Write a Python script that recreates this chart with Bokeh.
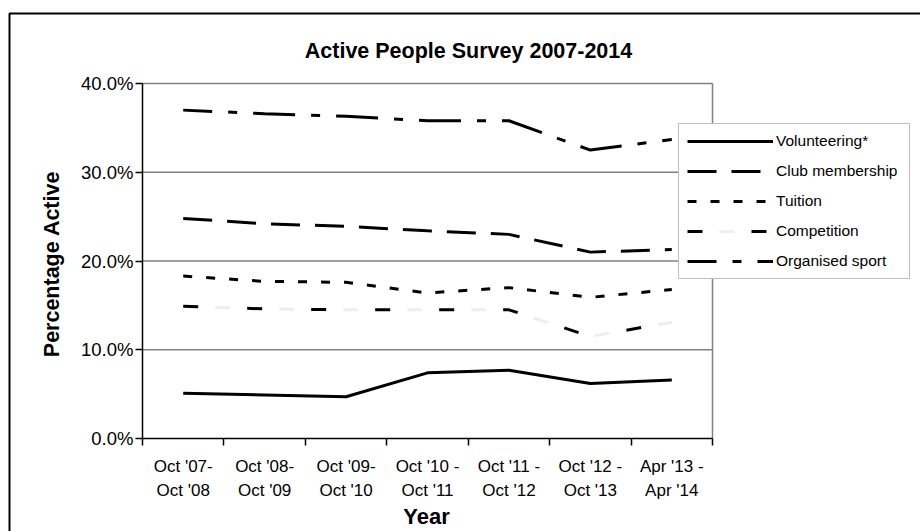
import math
from bokeh.plotting import figure
from bokeh.models import Range1d, FixedTicker, Legend, LegendItem
from bokeh.core.properties import value
from bokeh.embed import file_html
from bokeh.resources import INLINE

# ---- data ----
categories = ["Oct '07-\nOct '08", "Oct '08-\nOct '09", "Oct '09-\nOct '10",
              "Oct '10 -\nOct '11", "Oct '11 -\nOct '12", "Oct '12 -\nOct '13",
              "Apr '13 -\nApr '14"]
volunteering = [5.1, 4.9, 4.7, 7.4, 7.7, 6.2, 6.6]
club_membership = [24.8, 24.2, 23.9, 23.4, 23.0, 21.0, 21.3]
tuition = [18.3, 17.7, 17.6, 16.4, 17.0, 15.9, 16.8]
competition = [14.9, 14.6, 14.5, 14.5, 14.5, 11.5, 13.1]
organised_sport = [37.0, 36.6, 36.3, 35.8, 35.8, 32.5, 33.7]
y_ticks = [0, 10, 20, 30, 40]
y_tick_labels = ["0.0%", "10.0%", "20.0%", "30.0%", "40.0%"]
series_names = ["Volunteering*", "Club membership", "Tuition", "Competition", "Organised sport"]
title_text = "Active People Survey 2007-2014"
x_title = "Year"
y_title = "Percentage Active"

FONT = "Liberation Sans"
W, H = 920, 531
n = len(categories)
x_centers = [i + 0.5 for i in range(n)]
boundaries = list(range(n + 1))
y_max = y_ticks[-1]

# plot-area placement on the canvas (pixels)
PL, PR, PT, PB = 142, 712, 83, 438
sx = (PR - PL) / n          # px per category
sy = (PB - PT) / y_max      # px per percent


def dx(px):
    return (px - PL) / sx


def dy(py):
    return (PB - py) / sy


p = figure(width=W, height=H,
           x_range=Range1d(dx(0), dx(W)), y_range=Range1d(dy(H), dy(0)),
           output_backend="svg", toolbar_location=None, min_border=0)
p.title.visible = False
p.background_fill_color = "white"
p.border_fill_color = "white"
p.outline_line_color = None
p.xgrid.visible = False
p.ygrid.visible = False

# x axis (fixed at y=0, limited to the category span)
xa = p.xaxis[0]
xa.fixed_location = 0
xa.bounds = (0, n)
xa.ticker = FixedTicker(ticks=x_centers, minor_ticks=boundaries)
xa.major_label_overrides = {x: c for x, c in zip(x_centers, categories)}
xa.major_tick_out = 0
xa.major_tick_in = 0
xa.minor_tick_out = 7
xa.minor_tick_in = 0
xa.minor_tick_line_color = "black"
xa.minor_tick_line_width = 1.5
xa.axis_line_color = "black"
xa.axis_line_width = 1.5
xa.major_label_text_font = FONT
xa.major_label_text_font_size = "17px"
xa.major_label_text_color = "black"
xa.major_label_standoff = 11
xa.major_label_text_line_height = 1.3

# y axis (fixed at x=0)
ya = p.yaxis[0]
ya.fixed_location = 0
ya.bounds = (0, y_max)
ya.ticker = FixedTicker(ticks=y_ticks)
ya.major_label_overrides = {t: l for t, l in zip(y_ticks, y_tick_labels)}
ya.major_tick_out = 7
ya.major_tick_in = 0
ya.minor_tick_out = 0
ya.minor_tick_in = 0
ya.major_tick_line_color = "black"
ya.major_tick_line_width = 1.5
ya.axis_line_color = "black"
ya.axis_line_width = 1.5
ya.major_label_text_font = FONT
ya.major_label_text_font_size = "18.5px"
ya.major_label_text_color = "black"
ya.major_label_standoff = 2

# gridlines and plot-area border (limited to the category span)
grid_y = y_ticks[1:]
p.segment(x0=[0] * len(grid_y), y0=grid_y, x1=[n] * len(grid_y), y1=grid_y,
          line_color="#808080", line_width=1.5)
p.segment(x0=[n], y0=[0], x1=[n], y1=[y_max], line_color="#808080", line_width=1.5)

# chart-area border
p.line(x=[dx(9), dx(9), dx(W + 10)], y=[dy(H + 10), dy(13), dy(13)],
       line_color="black", line_width=2)

# ---- series ----
r_vol = p.line(x_centers, volunteering, line_color="black", line_width=3)
r_club = p.line(x_centers, club_membership, line_color="black", line_width=3, line_dash="29 15")
r_tui = p.line(x_centers, tuition, line_color="black", line_width=3, line_dash="9 14")
r_comp_l = p.line(x_centers, competition, line_color="#eeeeee", line_width=3,
                  line_dash="15 49", line_dash_offset=32)
r_comp = p.line(x_centers, competition, line_color="black", line_width=3, line_dash="15 49")
r_org = p.line(x_centers, organised_sport, line_color="black", line_width=3,
               line_dash="42 16 9 16", line_dash_offset=13)

legend = Legend(items=[
    LegendItem(label=series_names[0], renderers=[r_vol]),
    LegendItem(label=series_names[1], renderers=[r_club]),
    LegendItem(label=series_names[2], renderers=[r_tui]),
    LegendItem(label=series_names[3], renderers=[r_comp_l, r_comp]),
    LegendItem(label=series_names[4], renderers=[r_org]),
], location=(678, H - 279))
legend.padding = 8
legend.spacing = 12
legend.margin = 0
legend.label_height = 16
legend.glyph_height = 16
legend.glyph_width = 86
legend.label_width = 125
legend.label_standoff = 3
legend.label_text_font = FONT
legend.label_text_font_size = "15.5px"
legend.label_text_color = "black"
legend.border_line_color = "#808080"
legend.border_line_width = 1.5
legend.background_fill_color = "white"
legend.background_fill_alpha = 1.0
p.add_layout(legend)

# ---- titles ----
p.text(x=[dx(468)], y=[dy(50)], text=[title_text], text_font=value(FONT),
       text_font_size="21.5px", text_font_style="bold", text_color="black",
       text_align="center", text_baseline="alphabetic")
p.text(x=[dx(51)], y=[dy(263.5)], text=[y_title], angle=math.pi / 2, text_font=value(FONT),
       text_font_size="21.5px", text_font_style="bold", text_color="black",
       text_align="center", text_baseline="alphabetic")
p.text(x=[dx(426)], y=[dy(516)], text=[x_title], text_font=value(FONT),
       text_font_size="22px", text_font_style="bold", text_color="black",
       text_align="center", text_baseline="alphabetic")

open("out.html", "w").write(file_html(p, INLINE))
